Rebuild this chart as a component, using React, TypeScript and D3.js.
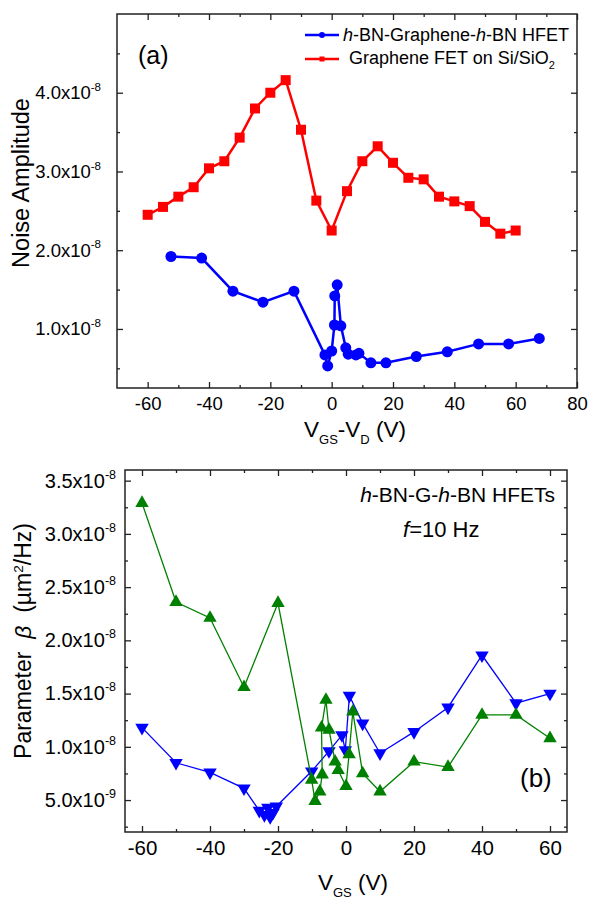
import React, { useEffect, useRef } from 'react';
import * as d3 from 'd3';

const FONT = '"Liberation Sans", Arial, sans-serif';

// panel (a): noise amplitude vs VGS-VD
const hbnGateA = [-52.4, -42.4, -32.2, -22.4, -12.3, -2.2, -1.3, 0, 0.9, 1.0, 1.8, 3.0, 4.6, 5.4, 7.9, 8.9, 12.8, 17.7, 27.6, 37.7, 47.9, 57.7, 67.7];
const hbnNoise = [1.92, 1.90, 1.48, 1.34, 1.48, 0.67, 0.53, 0.72, 1.05, 1.42, 1.56, 1.04, 0.76, 0.68, 0.67, 0.69, 0.57, 0.57, 0.65, 0.71, 0.81, 0.81, 0.88];
const sioGateA = [-60, -55, -50, -45, -40, -35, -30, -25, -20, -15, -10, -5, 0, 5, 10, 15, 20, 25, 30, 35, 40, 45, 50, 55, 60];
const sioNoise = [2.45, 2.55, 2.68, 2.80, 3.04, 3.13, 3.43, 3.80, 4.00, 4.16, 3.53, 2.63, 2.25, 2.75, 3.13, 3.32, 3.11, 2.92, 2.90, 2.68, 2.62, 2.56, 2.36, 2.21, 2.25];

// panel (b): parameter beta vs VGS
const greenGate = [-60, -50, -40, -30, -20, -10.1, -9.1, -7.7, -7.0, -7.2, -5.9, -5.0, -3.2, -2.3, 0, 0.9, 2.0, 4.9, 10, 20, 30, 40, 50, 60];
const greenBeta = [3.29, 2.36, 2.21, 1.56, 2.35, 0.69, 0.49, 0.58, 0.74, 1.18, 1.44, 1.16, 0.86, 0.78, 0.63, 0.93, 1.33, 0.75, 0.58, 0.86, 0.81, 1.30, 1.30, 1.08];
const blueGate = [-60, -50, -40, -30, -25.5, -24, -23, -22.3, -21.5, -20.5, -10.1, -5, -1.2, -0.2, 1.0, 4.9, 10, 20, 30, 40, 50, 60];
const blueBeta = [1.18, 0.85, 0.76, 0.61, 0.40, 0.36, 0.43, 0.34, 0.38, 0.44, 0.77, 0.96, 1.11, 0.97, 1.48, 1.22, 0.94, 1.14, 1.37, 1.86, 1.41, 1.50];

const xTicksA = [-60, -40, -20, 0, 20, 40, 60, 80];
const xMinorA = [-50, -30, -10, 10, 30, 50, 70];
const yTicksA = [1, 2, 3, 4];
const yMinorA = [0.5, 1.5, 2.5, 3.5, 4.5];
const xTicksB = [-60, -40, -20, 0, 20, 40, 60];
const xMinorB = [-50, -30, -10, 10, 30, 50];
const yTicksB = [0.5, 1, 1.5, 2, 2.5, 3, 3.5];
const yMinorB = [0.25, 0.75, 1.25, 1.75, 2.25, 2.75, 3.25];

const E8 = 1e-8;

const zip = (xs: number[], ys: number[]) => xs.map((v, i) => [v, ys[i] * E8] as [number, number]);

function sciLabel(text: any, v: number, size: number, sup: number) {
  const e = Math.floor(Math.log10(v) + 1e-9);
  const m = (v / Math.pow(10, e)).toFixed(1);
  text.text(null).attr('font-size', size);
  text.append('tspan').text(`${m}x10`);
  text.append('tspan').attr('font-size', sup).attr('dy', -size * 0.45).text(`${e}`);
}

function panel(svg: any, c: any) {
  const x = d3.scaleLinear().domain(c.xDomain).range([c.left, c.right]);
  const y = d3.scaleLinear().domain(c.yDomain).range([c.bottom, c.top]);
  const g = svg.append('g').attr('color', '#222');

  const add = (axis: any, tr: string, vals: number[], size: number, fmt: any, pad = 3) =>
    g.append('g').attr('transform', tr)
      .call(axis.tickValues(vals).tickSize(size).tickSizeOuter(0).tickPadding(pad).tickFormat(fmt))
      .call((s: any) => s.select('.domain').remove())
      .call((s: any) => s.selectAll('line').attr('stroke-width', 1.3));

  const none = () => '';
  const xb = add(d3.axisBottom(x), `translate(0,${c.bottom})`, c.xTicks, -6, (d: number) => `${d}`, c.xPad);
  xb.selectAll('text').attr('font-size', c.xFont).attr('font-family', FONT).attr('fill', '#000');
  add(d3.axisBottom(x), `translate(0,${c.bottom})`, c.xMinor, -3, none);
  add(d3.axisTop(x), `translate(0,${c.top})`, c.xTicks, -6, none);
  add(d3.axisTop(x), `translate(0,${c.top})`, c.xMinor, -3, none);

  const yl = add(d3.axisLeft(y), `translate(${c.left},0)`, c.yTicks.map((v: number) => v * E8), -6, (d: number) => `${d}`, c.yPad);
  yl.selectAll('text').attr('font-family', FONT).attr('fill', '#000').each(function (this: any, d: any) {
    sciLabel(d3.select(this), d, c.yFont, c.sup);
  });
  add(d3.axisLeft(y), `translate(${c.left},0)`, c.yMinor.map((v: number) => v * E8), -3, none);
  add(d3.axisRight(y), `translate(${c.right},0)`, c.yTicks.map((v: number) => v * E8), -6, none);
  add(d3.axisRight(y), `translate(${c.right},0)`, c.yMinor.map((v: number) => v * E8), -3, none);

  g.append('rect')
    .attr('x', c.left).attr('y', c.top)
    .attr('width', c.right - c.left).attr('height', c.bottom - c.top)
    .attr('fill', 'none').attr('stroke', '#222').attr('stroke-width', 1.5);

  return { x, y };
}

const App = () => {
  const svgRef = useRef<SVGSVGElement>(null);

  useEffect(() => {
    const svg = d3.select(svgRef.current);
    svg.selectAll('*').remove();
    svg.attr('font-family', FONT);

    // ---------- panel (a)
    const a = panel(svg, {
      left: 117, right: 577, top: 14, bottom: 388,
      xDomain: [-70, 80], yDomain: [0.25 * E8, 5.0 * E8],
      xTicks: xTicksA, xMinor: xMinorA, yTicks: yTicksA, yMinor: yMinorA,
      xFont: 18.5, yFont: 18.5, sup: 11.5, xPad: 9, yPad: 16,
    });
    const lineA = d3.line<[number, number]>().x(d => a.x(d[0])).y(d => a.y(d[1]));
    const blueA = zip(hbnGateA, hbnNoise);
    const redA = zip(sioGateA, sioNoise);

    svg.append('path').attr('d', lineA(blueA)).attr('fill', 'none').attr('stroke', '#0000ff').attr('stroke-width', 2.5);
    svg.append('g').selectAll('circle').data(blueA).join('circle')
      .attr('cx', d => a.x(d[0])).attr('cy', d => a.y(d[1])).attr('r', 5.5).attr('fill', '#0000ff');

    svg.append('path').attr('d', lineA(redA)).attr('fill', 'none').attr('stroke', '#ff0000').attr('stroke-width', 2.5);
    svg.append('g').selectAll('rect').data(redA).join('rect')
      .attr('x', d => a.x(d[0]) - 5).attr('y', d => a.y(d[1]) - 5)
      .attr('width', 10).attr('height', 10).attr('fill', '#ff0000');

    svg.append('text').attr('x', 138).attr('y', 64).attr('font-size', 25).text('(a)');

    // legend
    const leg = svg.append('g').attr('font-size', 18);
    leg.append('line').attr('x1', 305).attr('x2', 339).attr('y1', 35).attr('y2', 35).attr('stroke', '#0000ff').attr('stroke-width', 2.5);
    leg.append('circle').attr('cx', 322).attr('cy', 35).attr('r', 3).attr('fill', '#0000ff');
    const t1 = leg.append('text').attr('x', 343).attr('y', 41);
    t1.append('tspan').attr('font-style', 'italic').text('h');
    t1.append('tspan').text('-BN-Graphene-');
    t1.append('tspan').attr('font-style', 'italic').text('h');
    t1.append('tspan').text('-BN HFET');
    leg.append('line').attr('x1', 305).attr('x2', 339).attr('y1', 59).attr('y2', 59).attr('stroke', '#ff0000').attr('stroke-width', 2.5);
    leg.append('rect').attr('x', 319.5).attr('y', 56.5).attr('width', 5).attr('height', 5).attr('fill', '#ff0000');
    const t2 = leg.append('text').attr('x', 349).attr('y', 64);
    t2.append('tspan').text('Graphene FET on Si/SiO');
    t2.append('tspan').attr('font-size', 11).attr('dy', 5).text('2');

    // axis titles (a)
    svg.append('text').attr('transform', 'translate(29,183) rotate(-90)')
      .attr('text-anchor', 'middle').attr('font-size', 23.5).text('Noise Amplitude');
    const xtA = svg.append('text').attr('x', 355).attr('y', 437).attr('text-anchor', 'middle').attr('font-size', 22.5);
    xtA.append('tspan').text('V');
    xtA.append('tspan').attr('font-size', 13).attr('dy', 7).text('GS');
    xtA.append('tspan').attr('dy', -7).text('-V');
    xtA.append('tspan').attr('font-size', 13).attr('dy', 7).text('D');
    xtA.append('tspan').attr('dy', -7).text(' (V)');

    // ---------- panel (b)
    const b = panel(svg, {
      left: 125, right: 567, top: 470, bottom: 832,
      xDomain: [-65, 65], yDomain: [0.2 * E8, 3.6 * E8],
      xTicks: xTicksB, xMinor: xMinorB, yTicks: yTicksB, yMinor: yMinorB,
      xFont: 20.5, yFont: 20, sup: 12.5, xPad: 8, yPad: 9,
    });
    const lineB = d3.line<[number, number]>().x(d => b.x(d[0])).y(d => b.y(d[1]));
    const blueB = zip(blueGate, blueBeta);
    const greenB = zip(greenGate, greenBeta);
    const tri = d3.symbol().type(d3.symbolTriangle).size(78)();

    svg.append('path').attr('d', lineB(blueB)).attr('fill', 'none').attr('stroke', '#0000ff').attr('stroke-width', 1.3);
    svg.append('g').selectAll('path').data(blueB).join('path')
      .attr('d', tri).attr('transform', d => `translate(${b.x(d[0])},${b.y(d[1])}) rotate(180)`)
      .attr('fill', '#0000ff');

    svg.append('path').attr('d', lineB(greenB)).attr('fill', 'none').attr('stroke', '#008000').attr('stroke-width', 1.3);
    svg.append('g').selectAll('path').data(greenB).join('path')
      .attr('d', tri).attr('transform', d => `translate(${b.x(d[0])},${b.y(d[1])})`)
      .attr('fill', '#008000');

    const n1 = svg.append('text').attr('x', 555).attr('y', 502).attr('text-anchor', 'end').attr('font-size', 21);
    n1.append('tspan').attr('font-style', 'italic').text('h');
    n1.append('tspan').text('-BN-G-');
    n1.append('tspan').attr('font-style', 'italic').text('h');
    n1.append('tspan').text('-BN HFETs');
    const n2 = svg.append('text').attr('x', 403).attr('y', 537).attr('font-size', 22);
    n2.append('tspan').attr('font-style', 'italic').text('f');
    n2.append('tspan').text('=10 Hz');
    svg.append('text').attr('x', 520).attr('y', 787).attr('font-size', 26).text('(b)');

    const ytB = svg.append('text').attr('transform', 'translate(31,641) rotate(-90)')
      .attr('text-anchor', 'middle').attr('font-size', 23);
    ytB.append('tspan').text('Parameter ');
    ytB.append('tspan').attr('font-style', 'italic').text('\u00a0β\u00a0\u00a0');
    ytB.append('tspan').text('(µm');
    ytB.append('tspan').attr('font-size', 13.5).attr('dy', -8).text('2');
    ytB.append('tspan').attr('dy', 8).text('/Hz)');

    const xtB = svg.append('text').attr('x', 353).attr('y', 890).attr('text-anchor', 'middle').attr('font-size', 22.5);
    xtB.append('tspan').text('V');
    xtB.append('tspan').attr('font-size', 13).attr('dy', 7).text('GS');
    xtB.append('tspan').attr('dy', -7).text(' (V)');
  }, []);

  return (
    <svg ref={svgRef} width={589} height={899}
      style={{ position: 'absolute', left: 0, top: 0, background: '#fff' }} />
  );
};

export default App;
